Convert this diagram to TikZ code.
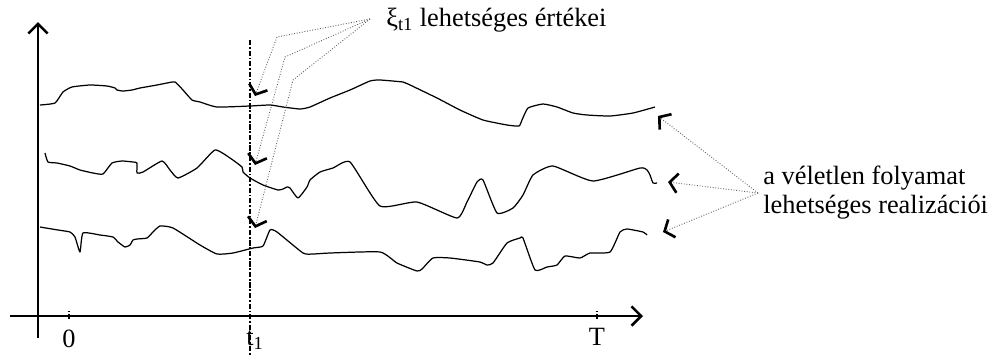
\documentclass[tikz,border=0pt]{standalone}
\usepackage{fontspec}
\setmainfont{Liberation Serif}
\usetikzlibrary{calc, arrows.meta}
\definecolor{hint}{RGB}{95, 95, 95}

\tikzset{
  realiz/.style={line width=0.7pt, line join=round},
  axis/.style={line width=1.5pt, -{Straight Barb[length=5.5pt, width=11pt, line width=1.5pt]}},
  pointer/.style={hint, line width=0.5pt, densely dotted,
    -{Straight Barb[length=4.5pt, width=11pt, line width=1.5pt, color=black]}},
  lbl/.style={font=\fontsize{15}{16}\selectfont, inner sep=0pt},
}

\begin{document}
\begin{tikzpicture}[x=0.02cm, y=-0.02cm]
  \useasboundingbox (0,0) rectangle (991,356);
  % tengelyek
  \coordinate (ybot) at (38,338);
  \coordinate (ytop) at (38,22);
  \coordinate (xl) at (10,316);
  \coordinate (xr) at (643,316);
  \draw[axis] (ybot) -- (ytop);
  \draw[axis] (xl) -- (xr);
  \foreach \x in {69,597}
    \draw[densely dotted, line width=0.8pt] (\x,311) -- (\x,320);
  \draw[line width=0.9pt, dash pattern=on 3pt off 1pt on 1pt off 1pt] (250,40) -- (250,356);
  \node[lbl] (zero) at (69,339) {0};
  \node[lbl] (tone) at (255,340) {t\textsubscript{1}};
  \node[lbl] (tend) at (597,337) {T};
  % realizaciok
  \draw[realiz] plot[smooth, tension=0.3] coordinates {(40,105) (55,103) (63,92) (72,87) (90,85)
    (107,86) (115,88) (117,90) (123,91) (132,90) (140,88) (157,85) (167,83) (175,82) (183,90)
    (192,100) (200,102) (217,107) (250,106) (270,105) (283,107) (300,109) (310,107) (330,98)
    (350,90) (370,81) (380,80) (403,82) (408,84) (437,98) (460,110) (483,120) (507,125)
    (519,126) (522,120) (528,108) (543,104) (557,107) (573,113) (587,115) (610,116) (633,113)
    (655,107)};
  \draw[realiz] plot[smooth, tension=0.3] coordinates {(45,153) (48,162) (57,163) (70,166)
    (80,170) (93,173) (103,174) (112,163) (122,161) (133,162) (137,163) (137,173) (143,172)
    (162,161) (170,170) (178,178) (197,168) (215,150) (230,158) (242,167) (243,172) (250,178)
    (263,185) (278,190) (283,189) (287,187) (290,188) (298,198) (307,187) (310,180) (320,172)
    (333,168) (350,162) (380,206) (417,202) (457,218) (467,202) (477,182) (483,180) (497,213)
    (513,208) (523,195) (533,175) (553,166) (593,181) (640,168) (647,170) (650,175) (653,183)
    (657,183)};
  \draw[realiz] plot[smooth, tension=0.3] coordinates {(40,227) (58,230) (70,232) (75,237)
    (80,252) (83,233) (100,235) (113,237) (118,242) (125,247) (130,245) (133,240) (137,239)
    (147,238) (153,232) (160,226) (173,228) (200,245) (217,254) (233,253) (253,248) (263,246)
    (270,230) (277,232) (303,253) (313,254) (330,253) (380,252) (397,263) (417,271) (422,269)
    (433,258) (450,258) (480,262) (487,265) (493,263) (507,243) (520,238) (523,238) (535,270)
    (547,267) (557,265) (565,256) (580,258) (590,253) (610,252) (620,232) (627,229) (643,232)
    (647,235)};
  % feliratok
  \node[lbl, anchor=west] (values) at (386,20) {ξ\textsubscript{t1} lehetséges értékei};
  \node[lbl, align=left, anchor=west, font=\fontsize{15}{16.5}\selectfont] (reals) at (763,193)
    {a véletlen folyamat\\lehetséges realizációi};
  \coordinate (vsrc) at ($(values.west)+(-16,-1)$);
  \coordinate (rsrc) at ($(reals.west)+(-5,0)$);
  \coordinate (v1) at (255,96);
  \coordinate (v2) at (255,165);
  \coordinate (v3) at (255,228);
  \coordinate (r1) at (658,116);
  \coordinate (r2) at (668,182);
  \coordinate (r3) at (663,232);
  \draw[pointer] (vsrc) -- (277,37) -- (v1);
  \draw[pointer] (vsrc) -- (285,57) -- (v2);
  \draw[pointer] (vsrc) -- (293,80) -- (v3);
  \foreach \r in {r1,r2,r3}
    \draw[pointer] (rsrc) -- (\r);
\end{tikzpicture}
\end{document}
